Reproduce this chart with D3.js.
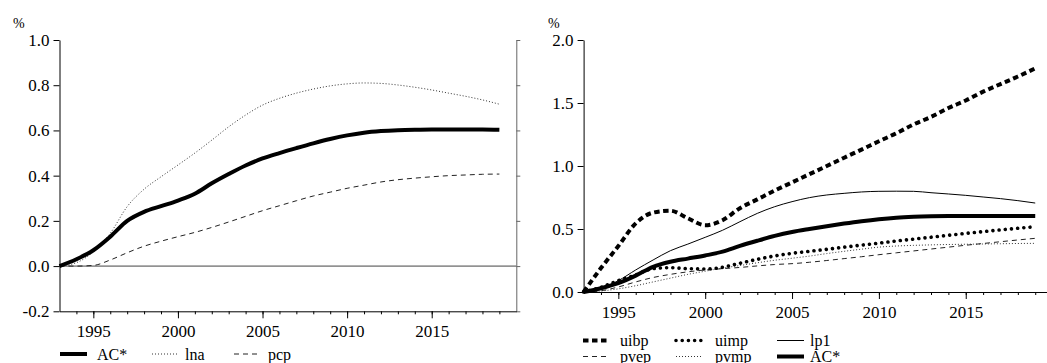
<!DOCTYPE html>
<html>
<head>
<meta charset="utf-8">
<script src="https://cdn.jsdelivr.net/npm/d3@7"></script>
<style>
  html, body { margin: 0; padding: 0; background: #fff; }
  svg { display: block; font-family: "Liberation Serif", "Times New Roman", Times, serif; }
</style>
</head>
<body>
<svg id="chart" width="1047" height="363"></svg>
<script>
// Annual observations, 1993-2019 (percent)
const years = d3.range(1993, 2020);

const acStar = [0, 0.03, 0.07, 0.13, 0.20, 0.24, 0.265, 0.29, 0.32, 0.366, 0.407, 0.445, 0.476, 0.50, 0.522, 0.543, 0.562, 0.578, 0.59, 0.597, 0.601, 0.603, 0.604, 0.604, 0.604, 0.604, 0.603];
const lna    = [0, 0.015, 0.063, 0.145, 0.263, 0.34, 0.395, 0.447, 0.50, 0.557, 0.616, 0.668, 0.712, 0.742, 0.765, 0.783, 0.797, 0.806, 0.81, 0.808, 0.801, 0.791, 0.779, 0.765, 0.751, 0.735, 0.716];
const pcp    = [0, 0, 0.003, 0.027, 0.059, 0.088, 0.11, 0.13, 0.149, 0.171, 0.195, 0.22, 0.245, 0.267, 0.289, 0.31, 0.327, 0.344, 0.358, 0.372, 0.382, 0.389, 0.395, 0.40, 0.403, 0.406, 0.407];

const uibp = [0, 0.19, 0.365, 0.545, 0.63, 0.645, 0.585, 0.53, 0.57, 0.665, 0.735, 0.805, 0.87, 0.935, 1.0, 1.066, 1.13, 1.196, 1.26, 1.33, 1.39, 1.46, 1.52, 1.59, 1.65, 1.71, 1.775];
const uimp = [0, 0.037, 0.09, 0.135, 0.185, 0.193, 0.185, 0.183, 0.196, 0.228, 0.259, 0.286, 0.307, 0.323, 0.339, 0.356, 0.372, 0.388, 0.405, 0.42, 0.435, 0.45, 0.465, 0.479, 0.493, 0.506, 0.518];
const lp1  = [0, 0.03, 0.09, 0.175, 0.254, 0.328, 0.38, 0.434, 0.49, 0.558, 0.624, 0.677, 0.717, 0.749, 0.77, 0.783, 0.794, 0.799, 0.80, 0.799, 0.788, 0.778, 0.767, 0.754, 0.741, 0.725, 0.706];
const pvep = [0, 0.01, 0.04, 0.08, 0.115, 0.14, 0.16, 0.175, 0.185, 0.195, 0.207, 0.218, 0.225, 0.236, 0.25, 0.265, 0.28, 0.296, 0.311, 0.326, 0.341, 0.356, 0.371, 0.385, 0.399, 0.413, 0.426];
const pvmp = [0, 0.008, 0.025, 0.05, 0.08, 0.11, 0.14, 0.165, 0.19, 0.21, 0.232, 0.252, 0.268, 0.285, 0.305, 0.323, 0.34, 0.356, 0.365, 0.37, 0.374, 0.377, 0.379, 0.381, 0.383, 0.385, 0.386];

const majorYears = [1995, 2000, 2005, 2010, 2015];
const minorYears = d3.range(1994, 2020);
const leftTicks  = [-0.2, 0, 0.2, 0.4, 0.6, 0.8, 1.0];
const rightTicks = [0, 0.5, 1.0, 1.5, 2.0];

const FONT = '"Liberation Serif", "Times New Roman", Times, serif';

// Line styles
const styles = {
  ac:   { width: 4,   dash: null,      cap: "butt",  color: "#000" },
  lna:  { width: 1,   dash: "1,2",     cap: "butt",  color: "#333" },
  pcp:  { width: 1,   dash: "5,4",     cap: "butt",  color: "#222" },
  uibp: { width: 4,   dash: "5.5,3.5", cap: "butt",  color: "#000" },
  uimp: { width: 3.6, dash: "0.01,6.2",cap: "round", color: "#000" },
  lp1:  { width: 1,   dash: null,      cap: "butt",  color: "#000" },
  pvep: { width: 1,   dash: "5,4",     cap: "butt",  color: "#222" },
  pvmp: { width: 1,   dash: "1,2",     cap: "butt",  color: "#333" }
};

const svg = d3.select("#chart");
const fmt = d => d.toFixed(1);

function styleText(sel, size) {
  sel.style("font-family", FONT).style("font-size", size + "px").attr("fill", "#000");
}

function xAxes(g, x, yPos) {
  g.append("g")
    .attr("transform", `translate(0,${yPos})`)
    .call(d3.axisBottom(x).tickValues(minorYears).tickSize(3).tickSizeOuter(0).tickFormat(""))
    .call(a => a.selectAll("path,line").attr("stroke", "#000"));
  const maj = g.append("g")
    .attr("transform", `translate(0,${yPos})`)
    .call(d3.axisBottom(x).tickValues(majorYears).tickSize(7).tickSizeOuter(0).tickPadding(7).tickFormat(d3.format("d")));
  maj.select(".domain").remove();
  maj.selectAll("line").attr("stroke", "#000");
  styleText(maj.selectAll("text"), 17);
}

function drawSeries(g, x, y, values, st) {
  const line = d3.line()
    .x((d, i) => x(years[i]))
    .y(d => y(d))
    .curve(d3.curveMonotoneX);
  g.append("path")
    .datum(values)
    .attr("d", line)
    .attr("fill", "none")
    .attr("stroke", st.color)
    .attr("stroke-width", st.width)
    .attr("stroke-dasharray", st.dash)
    .attr("stroke-linecap", st.cap)
    .attr("stroke-linejoin", "round");
}

function legendItem(g, x0, yc, label, st, textX) {
  g.append("line")
    .attr("x1", x0).attr("x2", x0 + 27)
    .attr("y1", yc).attr("y2", yc)
    .attr("stroke", st.color)
    .attr("stroke-width", st.width)
    .attr("stroke-dasharray", st.dash)
    .attr("stroke-linecap", st.cap);
  const t = g.append("text")
    .attr("x", textX).attr("y", yc + 5.5)
    .text(label);
  styleText(t, 16);
}

// ---- Left panel ----
const xL = d3.scaleLinear().domain([1993, 2020]).range([59.5, 516.3]);
const yL = d3.scaleLinear().domain([-0.2, 1.0]).range([311.3, 40]);
const gL = svg.append("g");

// zero reference line
gL.append("line")
  .attr("x1", xL(1993)).attr("x2", xL(2020))
  .attr("y1", yL(0)).attr("y2", yL(0))
  .attr("stroke", "#444").attr("stroke-width", 1);

// right-hand frame axis
const rAx = gL.append("g")
  .attr("transform", `translate(${xL(2020)},0)`)
  .call(d3.axisRight(yL).tickValues(leftTicks).tickSize(4).tickSizeOuter(0).tickFormat(""));
rAx.selectAll("path,line").attr("stroke", "#666");

const lAx = gL.append("g")
  .attr("transform", `translate(${xL(1993)},0)`)
  .call(d3.axisLeft(yL).tickValues(leftTicks).tickSize(6).tickSizeOuter(0).tickPadding(4).tickFormat(fmt));
lAx.selectAll("path,line").attr("stroke", "#000");
styleText(lAx.selectAll("text"), 17);

xAxes(gL, xL, yL(-0.2));

drawSeries(gL, xL, yL, pcp, styles.pcp);
drawSeries(gL, xL, yL, lna, styles.lna);
drawSeries(gL, xL, yL, acStar, styles.ac);

styleText(gL.append("text").attr("x", 13).attr("y", 28).text("%"), 14);

legendItem(gL, 60, 354, "AC*", styles.ac, 97);
legendItem(gL, 152, 354, "lna", styles.lna, 185);
legendItem(gL, 234, 354, "pcp", styles.pcp, 268);

// ---- Right panel ----
const xR = d3.scaleLinear().domain([1993, 2020]).range([583.6, 1052.6]);
const yR = d3.scaleLinear().domain([0, 2.0]).range([292, 40]);
const gR = svg.append("g");

const rlAx = gR.append("g")
  .attr("transform", `translate(${xR(1993)},0)`)
  .call(d3.axisLeft(yR).tickValues(rightTicks).tickSize(6).tickSizeOuter(0).tickPadding(4).tickFormat(fmt));
rlAx.selectAll("path,line").attr("stroke", "#000");
styleText(rlAx.selectAll("text"), 17);

xAxes(gR, xR, yR(0));

drawSeries(gR, xR, yR, pvmp, styles.pvmp);
drawSeries(gR, xR, yR, pvep, styles.pvep);
drawSeries(gR, xR, yR, uimp, styles.uimp);
drawSeries(gR, xR, yR, lp1, styles.lp1);
drawSeries(gR, xR, yR, acStar, styles.ac);
drawSeries(gR, xR, yR, uibp, styles.uibp);

styleText(gR.append("text").attr("x", 548).attr("y", 28).text("%"), 14);

legendItem(gR, 583, 340.5, "uibp", styles.uibp, 620);
legendItem(gR, 676, 340.5, "uimp", styles.uimp, 715);
legendItem(gR, 777, 340.5, "lp1", styles.lp1, 810);
legendItem(gR, 583, 356.5, "pvep", styles.pvep, 620);
legendItem(gR, 676, 356.5, "pvmp", styles.pvmp, 715);
legendItem(gR, 777, 356.5, "AC*", styles.ac, 810);
</script>
</body>
</html>
